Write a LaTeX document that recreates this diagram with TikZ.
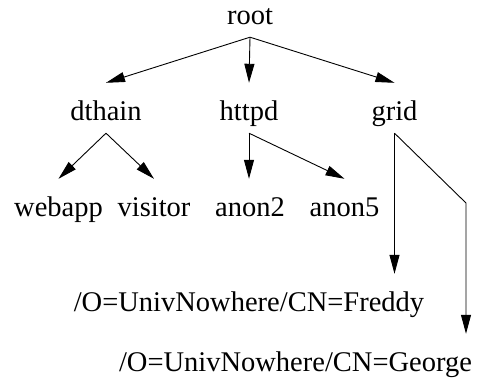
\documentclass[tikz,border=0pt]{standalone}
\usepackage{fontspec}
\setmainfont{Liberation Serif}
\usetikzlibrary{arrows.meta}
\begin{document}
\begin{tikzpicture}[x=1pt,y=-1pt,
  lbl/.style={anchor=base,inner xsep=0pt,inner ysep=12pt,text height=26pt,text depth=0pt,
    font=\fontsize{28.5}{30}\selectfont},
  edge/.style={line width=0.9pt,-{Triangle[length=19pt,width=10pt]}}]
\useasboundingbox (0,0) rectangle (480,379);
\node[lbl] (root) at (250,25) {root};
\node[lbl] (dthain) at (106,121) {dthain};
\node[lbl] (httpd) at (249,121) {httpd};
\node[lbl] (grid) at (394.5,121) {grid};
\node[lbl] (webapp) at (58.5,217) {webapp};
\node[lbl] (visitor) at (154,217) {visitor};
\node[lbl] (anon2) at (250,217) {anon2};
\node[lbl] (anon5) at (344.5,217) {anon5};
\node[lbl] (freddy) at (249,312) {/O=UnivNowhere/CN=Freddy};
\node[lbl] (george) at (295.5,372) {/O=UnivNowhere/CN=George};
\coordinate (bendG) at (466,203);
\draw[edge] (root.south) -- (dthain.north);
\draw[edge] (root.south) -- (httpd.north);
\draw[edge] (root.south) -- (grid.north);
\draw[edge] (dthain.south) -- (webapp.north);
\draw[edge] (dthain.south) -- (visitor.north);
\draw[edge] (httpd.south) -- (httpd.south |- anon2.north);
\draw[edge] (httpd.south) -- (anon5.north);
\draw[edge] (grid.south) -- (grid.south |- freddy.north);
\draw[edge] (grid.south) -- (bendG) -- (bendG |- george.north);
\end{tikzpicture}
\end{document}
